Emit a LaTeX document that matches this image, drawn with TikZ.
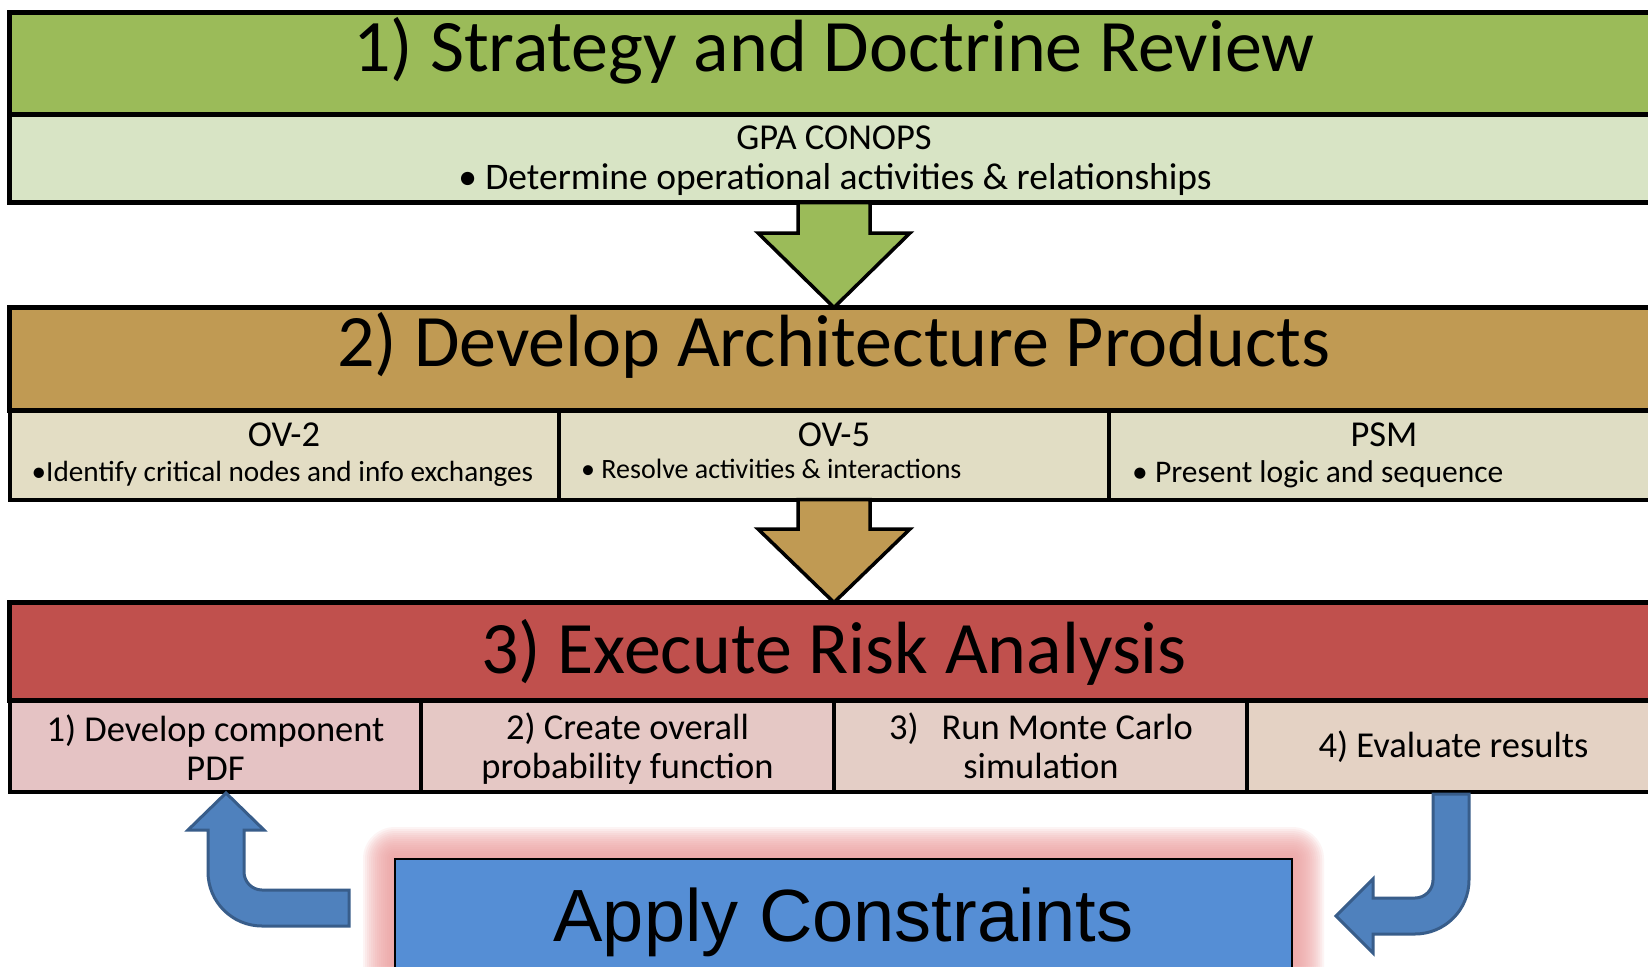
\documentclass[tikz,border=0pt]{standalone}
\usepackage{fontspec}
\setmainfont{Carlito}
\newfontfamily\arialfont{Liberation Sans}
\usetikzlibrary{calc}
\definecolor{hdrgreen}{HTML}{9BBB59}
\definecolor{subgreen}{HTML}{D8E4C5}
\definecolor{hdrtan}{HTML}{C09A53}
\definecolor{subtanA}{HTML}{E3DDC4}
\definecolor{subtanB}{HTML}{E1DDC4}
\definecolor{subtanC}{HTML}{DFDDC4}
\definecolor{hdrred}{HTML}{C0504D}
\definecolor{subredA}{HTML}{E5C3C4}
\definecolor{subredB}{HTML}{E5C8C5}
\definecolor{subredC}{HTML}{E4CEC6}
\definecolor{subredD}{HTML}{E4D2C4}
\definecolor{applyblue}{HTML}{558ED5}
\definecolor{glowpink}{HTML}{EE9E9E}
\definecolor{uarrowfill}{HTML}{4F81BD}
\definecolor{uarrowline}{HTML}{385D8A}
\begin{document}
\begin{tikzpicture}[x=1pt,y=-1pt,
  band/.style={draw=black, line width=4.5pt, rectangle, anchor=north west,
    outer sep=0pt, inner sep=0pt, minimum width=1650.5pt},
  cellbox/.style={draw=black, line width=4pt, rectangle, anchor=north west,
    outer sep=0pt, inner sep=0pt},
  titletext/.style={anchor=base, inner sep=0pt, font=\fontsize{74}{80}\selectfont},
  subtext/.style={anchor=base, inner sep=0pt, align=center, font=\fontsize{36.5}{39}\selectfont},
  bullettext/.style={anchor=base west, inner sep=0pt},
  blockarrow/.style={draw=black, line width=3.5pt, line join=miter},
  uarrow/.style={fill=uarrowfill, draw=uarrowline, line width=3pt, line join=miter},
]
\useasboundingbox (0,0) rectangle (1648,966);
\clip (0,0) rectangle (1648,966);
\fill[white] (0,0) rectangle (1648,966);

% ---- Box 1
\node[band, fill=hdrgreen, minimum height=102pt] (h1) at (9.5,12.5) {};
\node[band, fill=subgreen, minimum height=88pt] (s1) at (9.5,114.5) {};
\node[titletext] (t1) at (834,71) {1) Strategy and Doctrine Review};
\node[subtext] (g1) at (834,149) {GPA CONOPS};
\node[subtext, font=\fontsize{37.5}{40}\selectfont] (d1) at (835,189) {• Determine operational activities \& relationships};

% ---- Box 2
\node[band, fill=hdrtan, minimum height=103pt] (h2) at (9.5,307.5) {};
\node[cellbox, fill=subtanA, minimum width=549.5pt, minimum height=89pt] (c21) at (9.5,410.5) {};
\node[cellbox, fill=subtanB, minimum width=550pt, minimum height=89pt] (c22) at (559,410.5) {};
\node[cellbox, fill=subtanC, minimum width=551pt, minimum height=89pt] (c23) at (1109,410.5) {};
\node[titletext] (t2) at (834,366) {2) Develop Architecture Products};
\node[subtext] (o21) at (284,446) {OV-2};
\node[subtext] (o22) at (834,446) {OV-5};
\node[subtext] (o23) at (1384,446) {PSM};
\node[bullettext, font=\fontsize{29.2}{32}\selectfont] (b21) at (31.5,481) {•Identify critical nodes and info exchanges};
\node[bullettext, font=\fontsize{28}{32}\selectfont] (b22) at (581,478) {• Resolve activities \& interactions};
\node[bullettext, font=\fontsize{31.5}{34}\selectfont] (b23) at (1132,482) {• Present logic and sequence};

% ---- Box 3
\node[band, fill=hdrred, minimum height=98pt] (h3) at (9.5,602.5) {};
\node[cellbox, fill=subredA, minimum width=411.5pt, minimum height=91pt] (c31) at (9.5,700.5) {};
\node[cellbox, fill=subredB, minimum width=413pt, minimum height=91pt] (c32) at (421,700.5) {};
\node[cellbox, fill=subredC, minimum width=413pt, minimum height=91pt] (c33) at (834,700.5) {};
\node[cellbox, fill=subredD, minimum width=413pt, minimum height=91pt] (c34) at (1247,700.5) {};
\node[titletext] (t3) at (834,673) {3) Execute Risk Analysis};
\node[subtext] (x31) at (215.5,780) {1) Develop component\\PDF};
\node[subtext] (x32) at (627.5,778) {2) Create overall\\probability function};
\node[subtext] (x33) at (1041,778) {3)\hspace{0.4em} Run Monte Carlo\\simulation};
\node[subtext] (x34) at (1453.5,757) {4) Evaluate results};

% ---- Down arrows between boxes
\coordinate (a1s) at (834,202.5);
\coordinate (a1e) at (834,307.5);
\draw[blockarrow, fill=hdrgreen] ($(a1s)+(-36,0)$) -- ($(a1s)+(36,0)$) -- ($(a1s)+(36,30.5)$)
  -- ($(a1s)+(76,30.5)$) -- (a1e) -- ($(a1s)+(-76,30.5)$) -- ($(a1s)+(-36,30.5)$) -- cycle;
\coordinate (a2s) at (834,499.5);
\coordinate (a2e) at (834,602.5);
\draw[blockarrow, fill=hdrtan] ($(a2s)+(-36,0)$) -- ($(a2s)+(36,0)$) -- ($(a2s)+(36,29.5)$)
  -- ($(a2s)+(76,29.5)$) -- (a2e) -- ($(a2s)+(-76,29.5)$) -- ($(a2s)+(-36,29.5)$) -- cycle;

% ---- Apply Constraints with glow
\foreach \e in {2,4,...,32} {
  \fill[glowpink, opacity=0.11, rounded corners=\e pt] ({395-\e},{859-\e}) rectangle ({1292+\e},1020);
}
\node[draw=black, line width=1.5pt, fill=applyblue, anchor=north west, outer sep=0pt,
  inner sep=0pt, minimum width=897pt, minimum height=170pt] (apply) at (395,859) {};
\node[anchor=base, inner sep=0pt, font=\arialfont\fontsize{74}{80}\selectfont] (applyt) at (843.5,941) {Apply Constraints};

% ---- Feedback U-arrows
\draw[uarrow] (349,890) -- (349,926) -- (262,926) .. controls (232.2,926) and (208,901.8) .. (208,872)
  -- (208,830) -- (188,830) -- (226,793) -- (264,830) -- (244,830) -- (244,872)
  .. controls (244,881.9) and (252.1,890) .. (262,890) -- cycle;
\draw[uarrow] (1433,794) -- (1469,794) -- (1469,880) .. controls (1469,909.8) and (1444.8,934) .. (1415,934)
  -- (1373,934) -- (1373,953) -- (1336,916) -- (1373,879) -- (1373,898) -- (1415,898)
  .. controls (1424.9,898) and (1433,889.9) .. (1433,880) -- cycle;
\end{tikzpicture}
\end{document}
